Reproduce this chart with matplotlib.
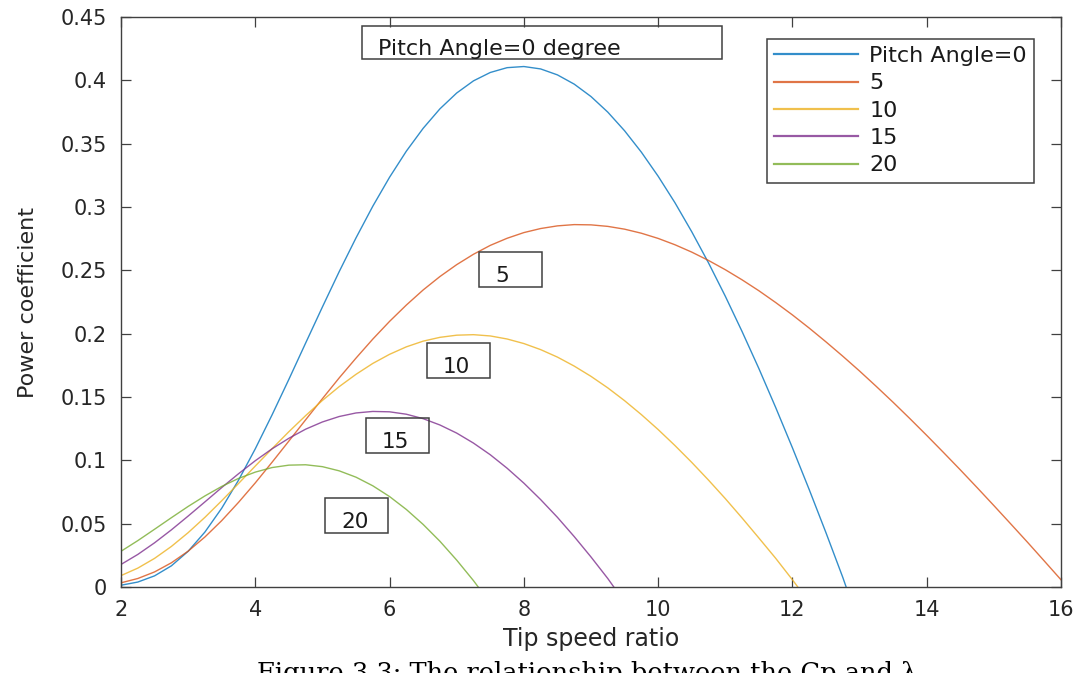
import matplotlib.pyplot as plt
from matplotlib.patches import Rectangle


# power coefficient curves, sampled every 0.25 in tip speed ratio,
# each one ending where it reaches zero
TSR_0 = [2.0, 2.25, 2.5, 2.75, 3.0, 3.25, 3.5, 3.75, 4.0, 4.25, 4.5, 4.75,
         5.0, 5.25, 5.5, 5.75, 6.0, 6.25, 6.5, 6.75, 7.0, 7.25, 7.5, 7.75,
         8.0, 8.25, 8.5, 8.75, 9.0, 9.25, 9.5, 9.75, 10.0, 10.25, 10.5,
         10.75, 11.0, 11.25, 11.5, 11.75, 12.0, 12.25, 12.5, 12.75, 12.8]
CP_0 = [0.0014, 0.0039, 0.0088, 0.0167, 0.0282, 0.0434, 0.0622, 0.0843,
        0.1091, 0.1359, 0.1639, 0.1926, 0.2211, 0.2490, 0.2756, 0.3006,
        0.3235, 0.3441, 0.3621, 0.3775, 0.3900, 0.3996, 0.4062, 0.4100,
        0.4109, 0.4090, 0.4043, 0.3970, 0.3872, 0.3749, 0.3602, 0.3433,
        0.3243, 0.3034, 0.2805, 0.2559, 0.2296, 0.2017, 0.1725, 0.1418,
        0.1099, 0.0769, 0.0428, 0.0076, 0.0]

TSR_5 = [2.0, 2.25, 2.5, 2.75, 3.0, 3.25, 3.5, 3.75, 4.0, 4.25, 4.5, 4.75,
         5.0, 5.25, 5.5, 5.75, 6.0, 6.25, 6.5, 6.75, 7.0, 7.25, 7.5, 7.75,
         8.0, 8.25, 8.5, 8.75, 9.0, 9.25, 9.5, 9.75, 10.0, 10.25, 10.5,
         10.75, 11.0, 11.25, 11.5, 11.75, 12.0, 12.25, 12.5, 12.75, 13.0,
         13.25, 13.5, 13.75, 14.0, 14.25, 14.5, 14.75, 15.0, 15.25, 15.5,
         15.75, 16.0]
CP_5 = [0.0033, 0.0067, 0.0119, 0.0191, 0.0283, 0.0395, 0.0524, 0.0668,
        0.0822, 0.0985, 0.1152, 0.1320, 0.1487, 0.1651, 0.1807, 0.1957,
        0.2097, 0.2226, 0.2345, 0.2451, 0.2545, 0.2627, 0.2697, 0.2753,
        0.2798, 0.2830, 0.2851, 0.2861, 0.2859, 0.2847, 0.2825, 0.2793,
        0.2752, 0.2702, 0.2644, 0.2578, 0.2505, 0.2425, 0.2339, 0.2246,
        0.2148, 0.2044, 0.1935, 0.1822, 0.1705, 0.1583, 0.1458, 0.1329,
        0.1197, 0.1062, 0.0925, 0.0785, 0.0643, 0.0499, 0.0354, 0.0206,
        0.0057]

TSR_10 = [2.0, 2.25, 2.5, 2.75, 3.0, 3.25, 3.5, 3.75, 4.0, 4.25, 4.5, 4.75,
          5.0, 5.25, 5.5, 5.75, 6.0, 6.25, 6.5, 6.75, 7.0, 7.25, 7.5, 7.75,
          8.0, 8.25, 8.5, 8.75, 9.0, 9.25, 9.5, 9.75, 10.0, 10.25, 10.5,
          10.75, 11.0, 11.25, 11.5, 11.75, 12.0, 12.08]
CP_10 = [0.0090, 0.0149, 0.0226, 0.0320, 0.0429, 0.0550, 0.0681, 0.0817,
         0.0955, 0.1092, 0.1226, 0.1353, 0.1473, 0.1582, 0.1679, 0.1765,
         0.1837, 0.1896, 0.1941, 0.1971, 0.1988, 0.1992, 0.1982, 0.1958,
         0.1922, 0.1874, 0.1815, 0.1744, 0.1663, 0.1572, 0.1471, 0.1361,
         0.1243, 0.1117, 0.0984, 0.0844, 0.0698, 0.0545, 0.0387, 0.0227,
         0.0057, 0.0]

TSR_15 = [2.0, 2.25, 2.5, 2.75, 3.0, 3.25, 3.5, 3.75, 4.0, 4.25, 4.5, 4.75,
          5.0, 5.25, 5.5, 5.75, 6.0, 6.25, 6.5, 6.75, 7.0, 7.25, 7.5, 7.75,
          8.0, 8.25, 8.5, 8.75, 9.0, 9.25, 9.34]
CP_15 = [0.0178, 0.0257, 0.0349, 0.0451, 0.0560, 0.0672, 0.0785, 0.0894,
         0.0997, 0.1091, 0.1174, 0.1246, 0.1303, 0.1346, 0.1374, 0.1386,
         0.1383, 0.1364, 0.1329, 0.1279, 0.1215, 0.1136, 0.1044, 0.0938,
         0.0820, 0.0690, 0.0550, 0.0398, 0.0237, 0.0067, 0.0]

TSR_20 = [2.0, 2.25, 2.5, 2.75, 3.0, 3.25, 3.5, 3.75, 4.0, 4.25, 4.5, 4.75,
          5.0, 5.25, 5.5, 5.75, 6.0, 6.25, 6.5, 6.75, 7.0, 7.25, 7.32]
CP_20 = [0.0282, 0.0366, 0.0456, 0.0547, 0.0636, 0.0719, 0.0794, 0.0857,
         0.0907, 0.0943, 0.0962, 0.0965, 0.0950, 0.0917, 0.0867, 0.0799,
         0.0714, 0.0612, 0.0494, 0.0361, 0.0212, 0.0050, 0.0]

LEGEND_LABELS = ["Pitch Angle=0", "5", "10", "15", "20"]
BOX_LABELS = ["5", "10", "15", "20"]

X_TICKS = [2, 4, 6, 8, 10, 12, 14, 16]
Y_TICKS = [0, 0.05, 0.1, 0.15, 0.2, 0.25, 0.3, 0.35, 0.4, 0.45]
Y_TICK_LABELS = ["0", "0.05", "0.1", "0.15", "0.2", "0.25", "0.3", "0.35",
                 "0.4", "0.45"]

# matlab default line colours
COLORS = ["#0072BD", "#D95319", "#EDB120", "#7E2F8E", "#77AC30"]
AXIS_GREY = "#404040"
TEXT_GREY = "#262626"

W, H = 1080, 673


def fig_xy(x, y):
    # pixel position (origin top-left) -> figure fraction
    return x / W, 1 - y / H


def main() -> None:
    plt.rcParams["font.family"] = ["DejaVu Sans"]

    fig = plt.figure(figsize=(W / 100, H / 100), dpi=100)
    ax = fig.add_axes([121 / W, 1 - 587 / H, 940 / W, 570 / H])

    series = [(TSR_0, CP_0), (TSR_5, CP_5), (TSR_10, CP_10),
              (TSR_15, CP_15), (TSR_20, CP_20)]
    for (x, y), color, label in zip(series, COLORS, LEGEND_LABELS):
        ax.plot(x, y, color=color, lw=1.0, alpha=0.8, label=label)

    ax.set_xlim(2, 16)
    ax.set_ylim(0, 0.45)
    ax.set_xticks(X_TICKS)
    ax.set_yticks(Y_TICKS)
    ax.set_yticklabels(Y_TICK_LABELS)
    ax.tick_params(direction="in", length=7, width=0.9, colors=AXIS_GREY,
                   labelcolor=TEXT_GREY, labelsize=15, top=True, right=True)
    ax.tick_params(axis="x", pad=9)
    ax.tick_params(axis="y", pad=10)
    for spine in ax.spines.values():
        spine.set_color(AXIS_GREY)
        spine.set_linewidth(1.0)

    ax.set_xlabel("Tip speed ratio", fontsize=17, color=TEXT_GREY)
    ax.set_ylabel("Power coefficient", fontsize=16, color=TEXT_GREY)
    ax.xaxis.set_label_coords(0.5, -0.07)
    ax.yaxis.set_label_coords(-0.088, 0.5)

    leg = ax.legend(loc="upper right", bbox_to_anchor=(0.9713, 0.9614),
                    borderaxespad=0, fontsize=16, handlelength=3.8,
                    handletextpad=0.5, labelspacing=0.33, borderpad=0.32,
                    fancybox=False, framealpha=1, edgecolor=AXIS_GREY)
    leg.get_frame().set_linewidth(1.1)
    for line in leg.get_lines():
        line.set_linewidth(1.6)
    for text in leg.get_texts():
        text.set_color("#1a1a1a")

    # annotation text boxes
    title_box = (362, 26, 360, 33)
    fig.add_artist(Rectangle(fig_xy(title_box[0], title_box[1] + title_box[3]),
                             title_box[2] / W, title_box[3] / H,
                             transform=fig.transFigure, fill=False,
                             edgecolor=AXIS_GREY, lw=1.1))
    fig.text(*fig_xy(378, 55), "Pitch Angle=0 degree", fontsize=16,
             color="#1a1a1a", ha="left", va="baseline")

    label_boxes = [(479, 252), (427, 343), (366, 418), (325, 498)]
    for (bx, by), label in zip(label_boxes, BOX_LABELS):
        fig.add_artist(Rectangle(fig_xy(bx, by + 35), 63 / W, 35 / H,
                                 transform=fig.transFigure, fill=False,
                                 edgecolor=AXIS_GREY, lw=1.1))
        fig.text(*fig_xy(bx + 16, by + 30), label, fontsize=15.5,
                 color="#1a1a1a", ha="left", va="baseline")

    # figure caption, partly cut off at the bottom edge
    fig.text(*fig_xy(257, 681),
             "Figure 3.3: The relationship between the Cp and \u03bb",
             fontsize=18.5, family="DejaVu Serif", color="black",
             ha="left", va="baseline")

    fig.savefig("out.png", dpi=100)
    plt.close(fig)


if __name__ == "__main__":
    main()
